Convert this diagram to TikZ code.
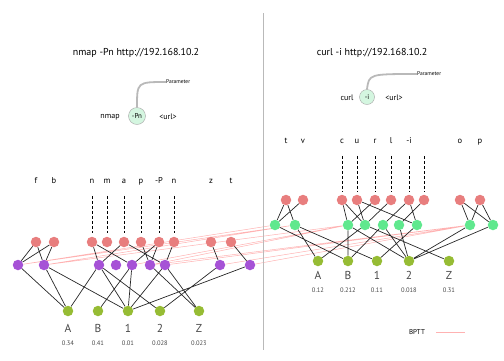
\documentclass[tikz,border=0pt]{standalone}
\usepackage{fontspec}
\setmainfont{PT Sans}
\definecolor{unitred}{RGB}{232, 126, 126}
\definecolor{unitpurple}{RGB}{166, 82, 214}
\definecolor{unitgreen}{RGB}{96, 232, 142}
\definecolor{unitolive}{RGB}{150, 188, 52}
\definecolor{parammint}{RGB}{212, 246, 224}
\definecolor{bpttpink}{RGB}{255, 178, 178}
\definecolor{labelgray}{RGB}{70, 70, 70}
\usepackage{tikz}
\usetikzlibrary{positioning, backgrounds}
\tikzset{
    unit/.style={circle, inner sep=0pt, minimum size=10.5pt},
    inred/.style={unit, fill=unitred},
    hidpurple/.style={unit, fill=unitpurple},
    hidgreen/.style={unit, fill=unitgreen},
    outolive/.style={unit, fill=unitolive},
    letter/.style={font=\fontsize{8.5}{9}\selectfont, inner sep=0pt, text height=6pt, text depth=1.5pt},
    outlabel/.style={font=\fontsize{11.5}{12}\selectfont, text=labelgray, inner sep=0pt},
    outvalue/.style={font=\fontsize{6.5}{7}\selectfont, text=labelgray, inner sep=0pt},
    cmdtitle/.style={font=\fontsize{10}{12}\selectfont, inner sep=0pt},
    cmdword/.style={font=\fontsize{8}{10}\selectfont, inner sep=0pt},
    paramcircle/.style={circle, draw=gray!70, fill=parammint, inner sep=0pt, font=\fontsize{7}{8}\selectfont},
    paramtext/.style={font=\fontsize{5.5}{6}\selectfont, inner sep=0pt, anchor=west},
    paramline/.style={draw=gray!55, line width=1.8pt},
    link/.style={draw=black!85, line width=0.7pt},
    bpttline/.style={draw=bpttpink, line width=0.5pt},
    inputline/.style={draw=black, line width=0.8pt, dash pattern=on 3.2pt off 1.8pt, shorten <=11pt, shorten >=3.5pt},
}

\begin{document}
\begin{tikzpicture}[x=1pt, y=-1pt]
    \useasboundingbox (0,0) rectangle (504,360);

    % Divider
    \coordinate (divtop) at (263,13);
    \coordinate (divbot) at (263,350);
    \draw[gray!55, line width=0.6pt] (divtop) -- (divbot);

    % Commands
    \node[cmdtitle] (ltitle) at (136,53) {nmap -Pn http://192.168.10.2};
    \node[cmdtitle] (rtitle) at (372,53) {curl -i http://192.168.10.2};

    \node[cmdword] (lcmd) at (110,117) {nmap};
    \node[paramcircle, minimum size=17pt] (lparam) at (137,116) {-Pn};
    \node[cmdword] (lurl) at (168,117) {<url>};
    \node[paramtext] (lptext) at (166,82) {Parameter};
    \draw[paramline] (lparam.north) .. controls (137,82) .. (lptext.west);

    \node[cmdword] (rcmd) at (347,98) {curl};
    \node[paramcircle, minimum size=15pt] (rparam) at (367,97) {-i};
    \node[paramtext] (rptext) at (417,74) {Parameter};
    \node[cmdword] (rurl) at (394,98) {<url>};
    \draw[paramline] (rparam.north) .. controls (369,74) .. (rptext.west);

    % nmap network, input letters
    \node[letter] (nl1) at (36,181) {f};
    \node[letter] (nl2) at (54,181) {b};
    \node[letter] (nl3) at (92,181) {n};
    \node[letter] (nl4) at (107,181) {m};
    \node[letter] (nl5) at (124,181) {a};
    \node[letter] (nl6) at (141,181) {p};
    \node[letter] (nl7) at (159,181) {-P};
    \node[letter] (nl8) at (174,181) {n};
    \node[letter] (nl9) at (211,181) {z};
    \node[letter] (nl10) at (231,181) {t};

    % nmap network, units
    \node[inred] (nr1) at (36,242) {};
    \node[inred] (nr2) at (54,242) {};
    \node[inred] (nr3) at (92,242) {};
    \node[inred] (nr4) at (107,242) {};
    \node[inred] (nr5) at (124,242) {};
    \node[inred] (nr6) at (141,242) {};
    \node[inred] (nr7) at (159,242) {};
    \node[inred] (nr8) at (174,242) {};
    \node[inred] (nr9) at (211,242) {};
    \node[inred] (nr10) at (231,242) {};

    \node[hidpurple] (np1) at (18,265) {};
    \node[hidpurple] (np2) at (44,265) {};
    \node[hidpurple] (np3) at (99,265) {};
    \node[hidpurple] (np4) at (116,265) {};
    \node[hidpurple] (np5) at (132,265) {};
    \node[hidpurple] (np6) at (150,265) {};
    \node[hidpurple] (np7) at (165,265) {};
    \node[hidpurple] (np8) at (220,265) {};
    \node[hidpurple] (np9) at (250,265) {};

    \node[outolive] (no1) at (68,311) {};
    \node[outolive] (no2) at (98,311) {};
    \node[outolive] (no3) at (128,311) {};
    \node[outolive] (no4) at (160,311) {};
    \node[outolive] (no5) at (199,311) {};

    \node[outlabel] (nA) at (68,328) {A};
    \node[outlabel] (nB) at (98,328) {B};
    \node[outlabel] (n1) at (128,328) {1};
    \node[outlabel] (n2) at (160,328) {2};
    \node[outlabel] (nZ) at (199,328) {Z};
    \node[outvalue] (nvA) at (68,343) {0.34};
    \node[outvalue] (nvB) at (98,343) {0.41};
    \node[outvalue] (nv1) at (128,343) {0.01};
    \node[outvalue] (nv2) at (160,343) {0.028};
    \node[outvalue] (nvZ) at (199,343) {0.023};

    % curl network, input letters
    \node[letter] (cl1) at (286,141) {t};
    \node[letter] (cl2) at (303,141) {v};
    \node[letter] (cl3) at (342,141) {c};
    \node[letter] (cl4) at (357,141) {u};
    \node[letter] (cl5) at (375,141) {r};
    \node[letter] (cl6) at (391,141) {l};
    \node[letter] (cl7) at (409,141) {-i};
    \coordinate (cl8) at (424,145);
    \node[letter] (cl9) at (460,141) {o};
    \node[letter] (cl10) at (480,141) {p};

    % curl network, units
    \node[inred] (cr1) at (286,200) {};
    \node[inred] (cr2) at (303,200) {};
    \node[inred] (cr3) at (342,200) {};
    \node[inred] (cr4) at (357,200) {};
    \node[inred] (cr5) at (375,200) {};
    \node[inred] (cr6) at (391,200) {};
    \node[inred] (cr7) at (409,200) {};
    \node[inred] (cr8) at (424,200) {};
    \node[inred] (cr9) at (460,200) {};
    \node[inred] (cr10) at (480,200) {};

    \node[hidgreen] (cg1) at (275,225) {};
    \node[hidgreen] (cg2) at (295,225) {};
    \node[hidgreen] (cg3) at (348,225) {};
    \node[hidgreen] (cg4) at (365,225) {};
    \node[hidgreen] (cg5) at (383,225) {};
    \node[hidgreen] (cg6) at (399,225) {};
    \node[hidgreen] (cg7) at (417,225) {};
    \node[hidgreen] (cg8) at (470,225) {};
    \node[hidgreen] (cg9) at (493,225) {};

    \node[outolive] (co1) at (318,261) {};
    \node[outolive] (co2) at (348,261) {};
    \node[outolive] (co3) at (377,261) {};
    \node[outolive] (co4) at (409,261) {};
    \node[outolive] (co5) at (449,261) {};

    \node[outlabel] (cA) at (318,275) {A};
    \node[outlabel] (cB) at (348,275) {B};
    \node[outlabel] (c1) at (377,275) {1};
    \node[outlabel] (c2) at (409,275) {2};
    \node[outlabel] (cZ) at (449,275) {Z};
    \node[outvalue] (cvA) at (318,290) {0.12};
    \node[outvalue] (cvB) at (348,290) {0.212};
    \node[outvalue] (cv1) at (377,290) {0.11};
    \node[outvalue] (cv2) at (409,290) {0.018};
    \node[outvalue] (cvZ) at (449,290) {0.31};

    % Connections
    \begin{scope}[on background layer]
    \draw[inputline] (nl3) -- (nr3);
    \draw[inputline] (nl4) -- (nr4);
    \draw[inputline] (nl5) -- (nr5);
    \draw[inputline] (nl6) -- (nr6);
    \draw[inputline] (nl7) -- (nr7);
    \draw[inputline] (nl8) -- (nr8);
    \draw[inputline] (cl3) -- (cr3);
    \draw[inputline] (cl4) -- (cr4);
    \draw[inputline] (cl5) -- (cr5);
    \draw[inputline] (cl6) -- (cr6);
    \draw[inputline] (cl7) -- (cr7);
    \draw[inputline] (cl8) -- (cr8);

    % BPTT
    \draw[bpttline] (np1) -- (cg1) (np1) -- (cg2) (np2) -- (cg2) (np2) -- (cg3)
        (np5) -- (cg3) (np6) -- (cg3) (np6) -- (cg8) (np7) -- (cg8)
        (np8) -- (cg8) (np9) -- (cg8);

    \draw[link] (nr1) -- (np1) (nr2) -- (np1) (nr1) -- (np2) (nr2) -- (np2)
        (nr3) -- (np3) (nr3) -- (np5) (nr5) -- (np3) (nr5) -- (np7)
        (nr6) -- (np6) (nr7) -- (np5) (nr7) -- (np6) (nr8) -- (np7)
        (nr9) -- (np8) (nr10) -- (np9);
    \draw[link] (np1) -- (no1) (np2) -- (no1) (np2) -- (no3) (np3) -- (no1)
        (np3) -- (no3) (np3) -- (no4) (np5) -- (no2) (np5) -- (no3)
        (np6) -- (no5) (np7) -- (no3) (np7) -- (no5) (np8) -- (no4) (np9) -- (no3);

    \draw[link] (cr1) -- (cg1) (cr1) -- (cg2) (cr2) -- (cg1)
        (cr3) -- (cg3) (cr3) -- (cg4) (cr4) -- (cg4) (cr4) -- (cg7)
        (cr5) -- (cg3) (cr6) -- (cg4) (cr7) -- (cg5) (cr7) -- (cg7) (cr8) -- (cg6)
        (cr9) -- (cg8) (cr9) -- (cg9) (cr10) -- (cg8) (cr10) -- (cg9);
    \draw[link] (cg1) -- (co2) (cg2) -- (co1) (cg2) -- (co3) (cg3) -- (co2)
        (cg3) -- (co4) (cg4) -- (co1) (cg4) -- (co5) (cg5) -- (co2) (cg5) -- (co4)
        (cg6) -- (co4) (cg7) -- (co3) (cg8) -- (co4) (cg9) -- (co4);
    \end{scope}

    % Legend
    \node[font=\fontsize{7}{8}\selectfont, inner sep=0pt] (bptt) at (417,332) {BPTT};
    \coordinate (bpttstart) at (436,332);
    \coordinate (bpttend) at (465,332);
    \draw[bpttline, line width=0.7pt] (bpttstart) -- (bpttend);
\end{tikzpicture}
\end{document}
